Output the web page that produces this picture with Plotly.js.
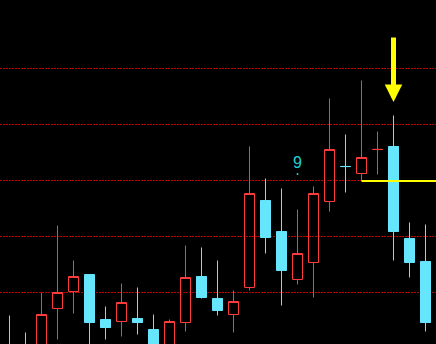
<!DOCTYPE html>
<html>
<head>
<meta charset="utf-8">
<script src="https://cdn.plot.ly/plotly-3.0.1.min.js"></script>
<style>
html,body{margin:0;padding:0;background:#000;}
#chart{width:436px;height:344px;}
</style>
</head>
<body>
<div id="chart"></div>
<script>
// candle index (trading periods)
var periods = [0,1,2,3,4,5,6,7,8,9,10,11,12,13,14,15,16,17,18,19,20,21,22,23,24,25,26];
var openV  = [9.9, 9.95, 9.9, 10.714, 11.018, 11.321, 10.518, 10.482, 10.536, 10.339, 9.95, 10.464, 11.286, 10.893, 10.607, 11.089, 12.643, 12.089, 11.232, 11.536, 12.625, 13.251, 13.125, 13.553, 13.607, 11.964, 11.554];
var closeV = [9.8, 9.85, 10.607, 11.0, 11.286, 10.464, 10.375, 10.821, 10.464, 9.95, 10.482, 11.268, 10.911, 10.679, 10.839, 12.768, 11.982, 11.393, 11.696, 12.768, 13.554, 13.249, 13.411, 13.555, 12.089, 11.536, 10.464];
var highV  = [10.589, 10.286, 11.0, 12.196, 11.571, 11.321, 10.75, 11.161, 11.089, 10.607, 10.518, 11.839, 11.804, 11.571, 11.036, 13.607, 13.036, 12.857, 12.482, 12.893, 14.464, 13.821, 14.786, 13.875, 14.161, 12.25, 12.214];
var lowV   = [9.7, 9.7, 9.8, 10.161, 10.625, 9.9, 10.161, 10.214, 10.25, 9.8, 9.9, 10.304, 10.893, 10.589, 10.286, 11.036, 11.696, 10.768, 11.143, 10.911, 12.446, 12.786, 13.0, 13.107, 11.571, 11.268, 10.304];

// horizontal reference levels (dotted red)
var levels = [11, 12, 13, 14, 15];

// support line (yellow)
var supportX = [22, 27];
var supportY = [12.99, 12.99];

// signal label
var signalText = '9';
var signalX = 18;
var signalY = 13.33;
var signalDotY = 13.116;

// arrow target
var arrowX = 24;
var arrowY = 14.402;

var RED = '#ff3c3c';
var CYAN = '#66e6fc';

var traces = [
  {
    type: 'candlestick',
    x: periods, open: openV, high: highV, low: lowV, close: closeV,
    increasing: {line: {color: RED, width: 1}, fillcolor: 'rgba(0,0,0,0)'},
    decreasing: {line: {color: CYAN, width: 1}, fillcolor: CYAN},
    whiskerwidth: 0,
    hoverinfo: 'none',
    showlegend: false
  },
  {
    type: 'scatter', mode: 'lines',
    x: supportX, y: supportY,
    line: {color: '#ffff00', width: 2},
    hoverinfo: 'none', showlegend: false
  },
  {
    type: 'scatter', mode: 'markers',
    x: [signalX], y: [signalDotY],
    marker: {color: '#20d0d8', size: 2},
    hoverinfo: 'none', showlegend: false
  }
];

var layout = {
  width: 436, height: 344,
  margin: {l: 0, r: 0, t: 0, b: 0, pad: 0},
  paper_bgcolor: '#000000',
  plot_bgcolor: '#000000',
  showlegend: false,
  boxgap: 0.375,
  boxgroupgap: 0,
  xaxis: {
    range: [-0.59375, 26.65625],
    showgrid: false, zeroline: false, showticklabels: false, ticks: '',
    showline: false, fixedrange: true,
    rangeslider: {visible: false}
  },
  yaxis: {
    range: [10.0804, 16.2232],
    tickmode: 'array', tickvals: levels,
    showgrid: true, gridcolor: '#c00000', gridwidth: 1, griddash: '2px,1px',
    zeroline: false, showticklabels: false, ticks: '', showline: false,
    fixedrange: true
  },
  annotations: [
    {
      x: signalX, y: signalY, xref: 'x', yref: 'y',
      text: signalText, showarrow: false,
      font: {family: 'Liberation Sans, Arial, sans-serif', size: 16, color: '#20d0d8'}
    },
    {
      x: arrowX, y: arrowY, xref: 'x', yref: 'y',
      text: '', showarrow: true,
      ax: 0, ay: -66,
      arrowhead: 2, arrowsize: 0.7, arrowwidth: 5,
      arrowcolor: '#ffff00', standoff: 0
    }
  ]
};

Plotly.newPlot('chart', traces, layout, {staticPlot: true, displayModeBar: false});
</script>
</body>
</html>
